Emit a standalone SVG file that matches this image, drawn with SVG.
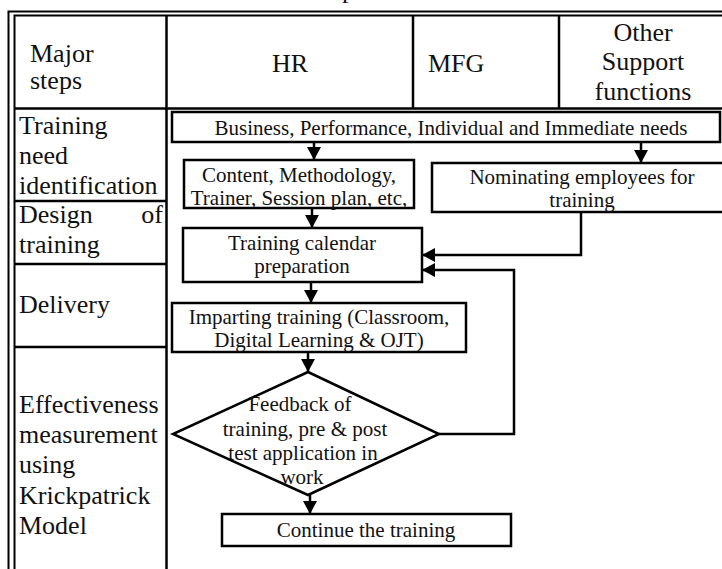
<svg xmlns="http://www.w3.org/2000/svg" width="722" height="569" viewBox="0 0 722 569">
  <style>
    .grid { stroke: #000; stroke-width: 2.5; fill: none; }
    .frame { stroke: #000; stroke-width: 2; fill: none; }
    .box { stroke: #000; stroke-width: 2.5; fill: #fff; }
    .conn { stroke: #000; stroke-width: 2.5; fill: none; }
    .lbl { font-family: "Liberation Serif", "Times New Roman", serif; font-size: 26px; fill: #111; }
    .txt { font-family: "Liberation Serif", "Times New Roman", serif; font-size: 21px; fill: #111; text-anchor: middle; }
    .mid { text-anchor: middle; }
  </style>
  <defs>
    <marker id="arrow" markerUnits="userSpaceOnUse" markerWidth="14" markerHeight="14" refX="13" refY="7" orient="auto">
      <path d="M0,0 L13,7 L0,14 z" fill="#000"/>
    </marker>
  </defs>

  <rect width="722" height="569" fill="#fff"/>

  <!-- title line, cut off at the top edge -->
  <text class="lbl" x="342" y="-2">p</text>

  <!-- table: double outer frame, columns and rows -->
  <g id="table">
    <path class="frame" d="M8.5,569 V11.5 H722"/>
    <path class="frame" d="M14.5,569 V15.5 H722"/>
    <path class="grid" d="M166.5,15 V569"/>
    <path class="grid" d="M413,15 V108"/>
    <path class="grid" d="M559,15 V108"/>
    <path class="grid" d="M14,108.5 H722"/>
    <path class="grid" d="M14,201 H166"/>
    <path class="grid" d="M14,264 H166"/>
    <path class="grid" d="M14,347 H166"/>
  </g>

  <!-- header row -->
  <g id="header">
    <text class="lbl" x="30" y="62">Major</text>
    <text class="lbl" x="30" y="89">steps</text>
    <text class="lbl mid" x="290" y="72">HR</text>
    <text class="lbl" x="428" y="72">MFG</text>
    <text class="lbl mid" x="643" y="41">Other</text>
    <text class="lbl mid" x="643" y="70">Support</text>
    <text class="lbl mid" x="643" y="100">functions</text>
  </g>

  <!-- major steps column -->
  <g id="steps">
    <text class="lbl" x="19" y="134">Training</text>
    <text class="lbl" x="19" y="164">need</text>
    <text class="lbl" x="19" y="194">identification</text>
    <text class="lbl" x="19" y="223">Design</text>
    <text class="lbl" x="163" y="223" text-anchor="end">of</text>
    <text class="lbl" x="19" y="253">training</text>
    <text class="lbl" x="19" y="313">Delivery</text>
    <text class="lbl" x="19" y="413">Effectiveness</text>
    <text class="lbl" x="19" y="443">measurement</text>
    <text class="lbl" x="19" y="473">using</text>
    <text class="lbl" x="19" y="504">Krickpatrick</text>
    <text class="lbl" x="19" y="534">Model</text>
  </g>

  <!-- flow nodes -->
  <g id="needs">
    <rect class="box" x="172" y="112" width="548" height="30"/>
    <text class="txt" x="451" y="135">Business, Performance, Individual and Immediate needs</text>
  </g>
  <g id="design">
    <rect class="box" x="184" y="160" width="230" height="48"/>
    <text class="txt" x="299" y="182">Content, Methodology,</text>
    <text class="txt" x="299" y="205">Trainer, Session plan, etc,</text>
  </g>
  <g id="nominate">
    <rect class="box" x="432" y="163" width="300" height="49"/>
    <text class="txt" x="582" y="184">Nominating employees for</text>
    <text class="txt" x="582" y="207">training</text>
  </g>
  <g id="calendar">
    <rect class="box" x="183" y="228" width="239" height="54"/>
    <text class="txt" x="302" y="250">Training calendar</text>
    <text class="txt" x="302" y="273">preparation</text>
  </g>
  <g id="imparting">
    <rect class="box" x="172" y="303" width="294" height="49"/>
    <text class="txt" x="319" y="324">Imparting training (Classroom,</text>
    <text class="txt" x="319" y="347">Digital Learning &amp; OJT)</text>
  </g>
  <g id="feedback">
    <polygon class="box" points="308,372 439,434 308,495 173,434"/>
    <text class="txt" x="300" y="411">Feedback of</text>
    <text class="txt" x="305" y="436">training, pre &amp; post</text>
    <text class="txt" x="303" y="460">test application in</text>
    <text class="txt" x="302" y="484">work</text>
  </g>
  <g id="continue">
    <rect class="box" x="222" y="514" width="289" height="32"/>
    <text class="txt" x="366" y="537">Continue the training</text>
  </g>

  <!-- connectors -->
  <g id="connectors">
    <path class="conn" d="M314,142 V160" marker-end="url(#arrow)"/>
    <path class="conn" d="M641,142 V163" marker-end="url(#arrow)"/>
    <path class="conn" d="M312,208 V228" marker-end="url(#arrow)"/>
    <path class="conn" d="M581,212 V255 H422" marker-end="url(#arrow)"/>
    <path class="conn" d="M439,434 H514 V270 H422" marker-end="url(#arrow)"/>
    <path class="conn" d="M311,282 V303" marker-end="url(#arrow)"/>
    <path class="conn" d="M308,352 V372" marker-end="url(#arrow)"/>
    <path class="conn" d="M310,495 V514" marker-end="url(#arrow)"/>
  </g>
</svg>
